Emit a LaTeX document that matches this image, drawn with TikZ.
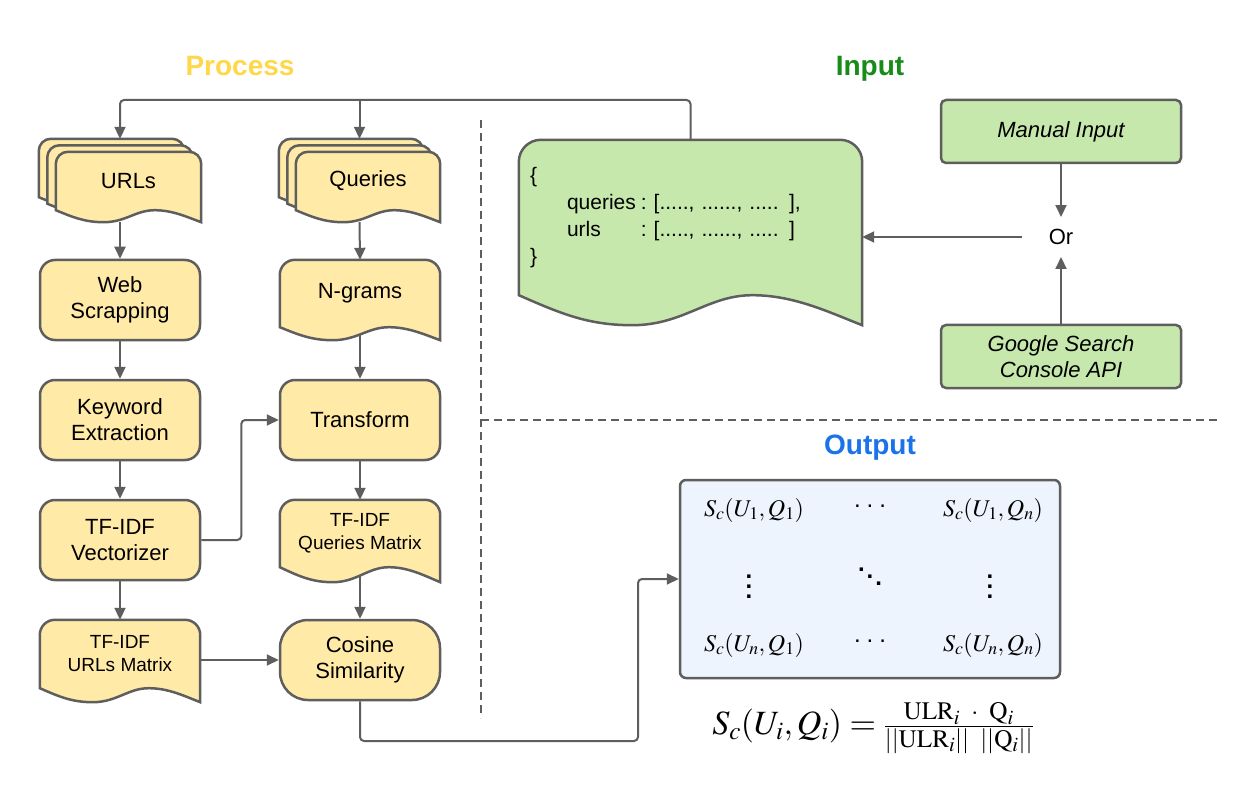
\documentclass[tikz,border=0pt]{standalone}
\usepackage{mathptmx}
\usepackage[no-math]{fontspec}
\setmainfont{Liberation Sans}
\usetikzlibrary{arrows.meta,backgrounds,calc}
\definecolor{bd}{HTML}{5E5E5E}
\definecolor{yel}{HTML}{FFEAA8}
\definecolor{grn}{HTML}{C7E8AC}
\definecolor{blu}{HTML}{EDF4FE}
\definecolor{ttlY}{HTML}{FFD84A}
\definecolor{ttlG}{HTML}{188C18}
\definecolor{ttlB}{HTML}{1A73E8}
\newcommand\myvdots{\vbox{\baselineskip=10pt\lineskiplimit=0pt\hbox{\textbf{.}}\hbox{\textbf{.}}\hbox{\textbf{.}}}}
\newcommand\myddots{\mbox{\raisebox{14pt}{\textbf{.}}\kern2pt\raisebox{7pt}{\textbf{.}}\kern2pt\textbf{.}}}
\newcommand\mycdots{\mbox{.\kern6pt.\kern6pt.}}
\tikzset{
 f22/.style={font=\fontsize{22}{26}\selectfont},
 f19/.style={font=\fontsize{19}{23}\selectfont},
 pbox/.style={draw=bd, line width=2.5pt, fill=yel, rounded corners=15pt, minimum width=160pt, minimum height=80pt, align=center, inner sep=0pt, f22},
 dtext/.style={inner sep=0pt, align=center},
 gbox/.style={draw=bd, line width=2.5pt, fill=grn, rounded corners=5pt, minimum width=240pt, minimum height=63pt, align=center, inner sep=0pt, font=\fontsize{22}{26}\selectfont\itshape},
 ttl/.style={font=\fontsize{28}{32}\selectfont\bfseries, anchor=base, inner sep=0pt},
 conn/.style={draw=bd, line width=2pt, rounded corners=4pt},
 arr/.style={conn, -{Triangle[length=12pt,width=11pt]}},
 sepline/.style={draw=bd, line width=2pt, dash pattern=on 8pt off 5pt},
 mth/.style={font=\fontsize{24}{28}\selectfont, inner sep=0pt},
}
% #1 node, #2 amplitude, #3 corner radius, #4 dx, #5 dy, #6 fill
\newcommand\docshape[6]{%
\draw[line width=2.5pt, draw=bd, fill=#6] let \p1=($(#1.north west)+(#4,#5)$), \p2=($(#1.south east)+(#4,#5)$), \n1={\x2-\x1} in
 (\x1,\y2) -- ({\x1},{\y1-#3})
 .. controls ({\x1},{\y1-0.45*#3}) and ({\x1+0.45*#3},{\y1}) .. ({\x1+#3},{\y1})
 -- ({\x2-#3},{\y1})
 .. controls ({\x2-0.45*#3},{\y1}) and ({\x2},{\y1-0.45*#3}) .. ({\x2},{\y1-#3})
 -- ({\x2},{\y2-#2})
 .. controls ({\x2-0.1*\n1},{\y2-0.55*#2}) and ({\x2-0.2*\n1},{\y2}) .. ({\x2-0.32*\n1},{\y2})
 .. controls ({\x2-0.45*\n1},{\y2}) and ({\x2-0.52*\n1},{\y2-#2}) .. ({\x1+0.33*\n1},{\y2-#2})
 .. controls ({\x1+0.2*\n1},{\y2-#2}) and ({\x1+0.12*\n1},{\y2-0.6*#2}) .. (\x1,\y2) -- cycle;}
\begin{document}
\begin{tikzpicture}[x=1pt,y=1pt]
\useasboundingbox (0,0) rectangle (1260,-799);
\begin{scope}[on background layer]
\fill[white] (0,0) rectangle (1260,-799);
\end{scope}

% titles
\node[ttl, text=ttlY] (tproc) at (240,-76) {Process};
\node[ttl, text=ttlG] (tin) at (870,-76) {Input};
\node[ttl, text=ttlB] (tout) at (870,-454) {Output};

% separators
\draw[sepline] (481,-120) -- (481,-718);
\draw[sepline] (481,-420) -- (1220,-420);

% column 1
\node[inner sep=0pt, minimum width=162pt, minimum height=83pt] (urls) at (120,-180.5) {};
\node[dtext, f22, minimum width=145pt, minimum height=58pt] (urlsF) at (128.5,-181) {};
\docshape{urlsF}{12pt}{12pt}{-17}{13}{yel}
\docshape{urlsF}{12pt}{12pt}{-8.5}{6.5}{yel}
\docshape{urlsF}{12pt}{12pt}{0}{0}{yel}
\node[dtext, f22] at (urlsF) {URLs};

\node[pbox] (web) at (120,-300) {Web\\Scrapping};
\node[pbox] (kw) at (120,-420) {Keyword\\Extraction};
\node[pbox] (vec) at (120,-540) {TF-IDF\\Vectorizer};
\node[dtext, f19, minimum width=160pt, minimum height=68pt] (um) at (120,-654) {};
\docshape{um}{14pt}{15pt}{0}{0}{yel}
\node[dtext, f19] at (um) {TF-IDF\\URLs Matrix};

% column 2
\node[inner sep=0pt, minimum width=162pt, minimum height=83pt] (queries) at (359.5,-180.5) {};
\node[dtext, f22, minimum width=144pt, minimum height=58pt] (queriesF) at (368,-181) {};
\docshape{queriesF}{12pt}{12pt}{-17}{13}{yel}
\docshape{queriesF}{12pt}{12pt}{-8.5}{6.5}{yel}
\docshape{queriesF}{12pt}{12pt}{0}{0}{yel}
\node[dtext, f22] at (queriesF) {Queries};

\node[dtext, f22, minimum width=160pt, minimum height=67pt] (ngr) at (360,-293.5) {};
\docshape{ngr}{13pt}{15pt}{0}{0}{yel}
\node[dtext, f22] at (ngr) {N-grams};
\node[pbox] (tr) at (360,-420) {Transform};
\node[dtext, f19, minimum width=160pt, minimum height=67pt] (qm) at (360,-533.5) {};
\docshape{qm}{15pt}{15pt}{0}{0}{yel}
\node[dtext, f19] at (qm) {TF-IDF\\Queries Matrix};
\node[pbox, rounded corners=28pt] (cos) at (360,-660) {Cosine\\Similarity};

% input
\node[inner xsep=11pt, inner ysep=0pt, minimum width=343pt, minimum height=155pt, text width=321pt, align=left] (json) at (690.5,-217.5) {};
\docshape{json}{30pt}{22pt}{0}{0}{grn}
\node[inner xsep=11pt, inner ysep=0pt, minimum width=343pt, minimum height=155pt, text width=321pt, align=left, font=\fontsize{21}{27}\selectfont] at (json) {\setlength{\tabcolsep}{0pt}\begin{tabular}{@{}l@{}l@{}}
\{ & \\
\hspace*{37pt}queries & \hspace*{5pt}:\ [....., ......, ..... ],\\
\hspace*{37pt}urls & \hspace*{5pt}:\ [....., ......, ..... ]\\
\} & \\
\end{tabular}};
\node[gbox] (man) at (1061,-131.5) {Manual Input};
\node[gbox] (goo) at (1061,-356.5) {Google Search\\Console API};
\node[f22, inner xsep=27pt, inner ysep=12pt] (orn) at (1061,-237) {Or};

% output
\node[draw=bd, line width=2.5pt, fill=blu, rounded corners=6pt, minimum width=380pt, minimum height=198pt] (out) at (870,-579) {};
\node[mth] (m11) at (754,-510) {$S_c(U_1,Q_1)$};
\node[mth] (m12) at (870,-506) {\mycdots};
\node[mth] (m13) at (993,-510) {$S_c(U_1,Q_n)$};
\node[mth] (m21) at (749,-587) {\myvdots};
\node[mth] (m22) at (870,-577) {\myddots};
\node[mth] (m23) at (990,-587) {\myvdots};
\node[mth] (m31) at (754,-645) {$S_c(U_n,Q_1)$};
\node[mth] (m32) at (870,-641) {\mycdots};
\node[mth] (m33) at (993,-645) {$S_c(U_n,Q_n)$};
\node[font=\fontsize{34}{38}\selectfont, inner sep=0pt] (frm) at (873,-728) {$S_c(U_i,Q_i) = \frac{\mathrm{ULR}_i\;\;\cdot\;\;\mathrm{Q}_i}{||\mathrm{ULR}_i||\;\;||\mathrm{Q}_i||}$};

% connectors
\coordinate (bus) at (0,-100);
\coordinate (c1) at (638,-741);
\begin{scope}[on background layer]
\draw[arr] (json.north) -- (json.north |- bus) -| (urls.north);
\draw[arr] (queries.north |- bus) -- (queries.north);
\draw[arr] (urls.south) -- (web.north);
\draw[arr] (web.south) -- (kw.north);
\draw[arr] (kw.south) -- (vec.north);
\draw[arr] (vec.south) -- (um.north);
\draw[arr] (queries.south) -- (ngr.north);
\draw[arr] (ngr.south) -- (tr.north);
\draw[arr] (tr.south) -- (qm.north);
\draw[arr] (qm.south) -- (cos.north);
\draw[arr] (vec.east) -- ++(40,0) |- (tr.west);
\draw[arr] (um.east |- cos.west) -- (cos.west);
\draw[arr] (cos.south) |- (c1) |- (out.west);
\draw[arr] (man.south) -- (orn.north);
\draw[arr] (goo.north) -- (orn.south);
\draw[arr] (orn.west) -- (orn.west -| json.east);
\end{scope}
\end{tikzpicture}
\end{document}
